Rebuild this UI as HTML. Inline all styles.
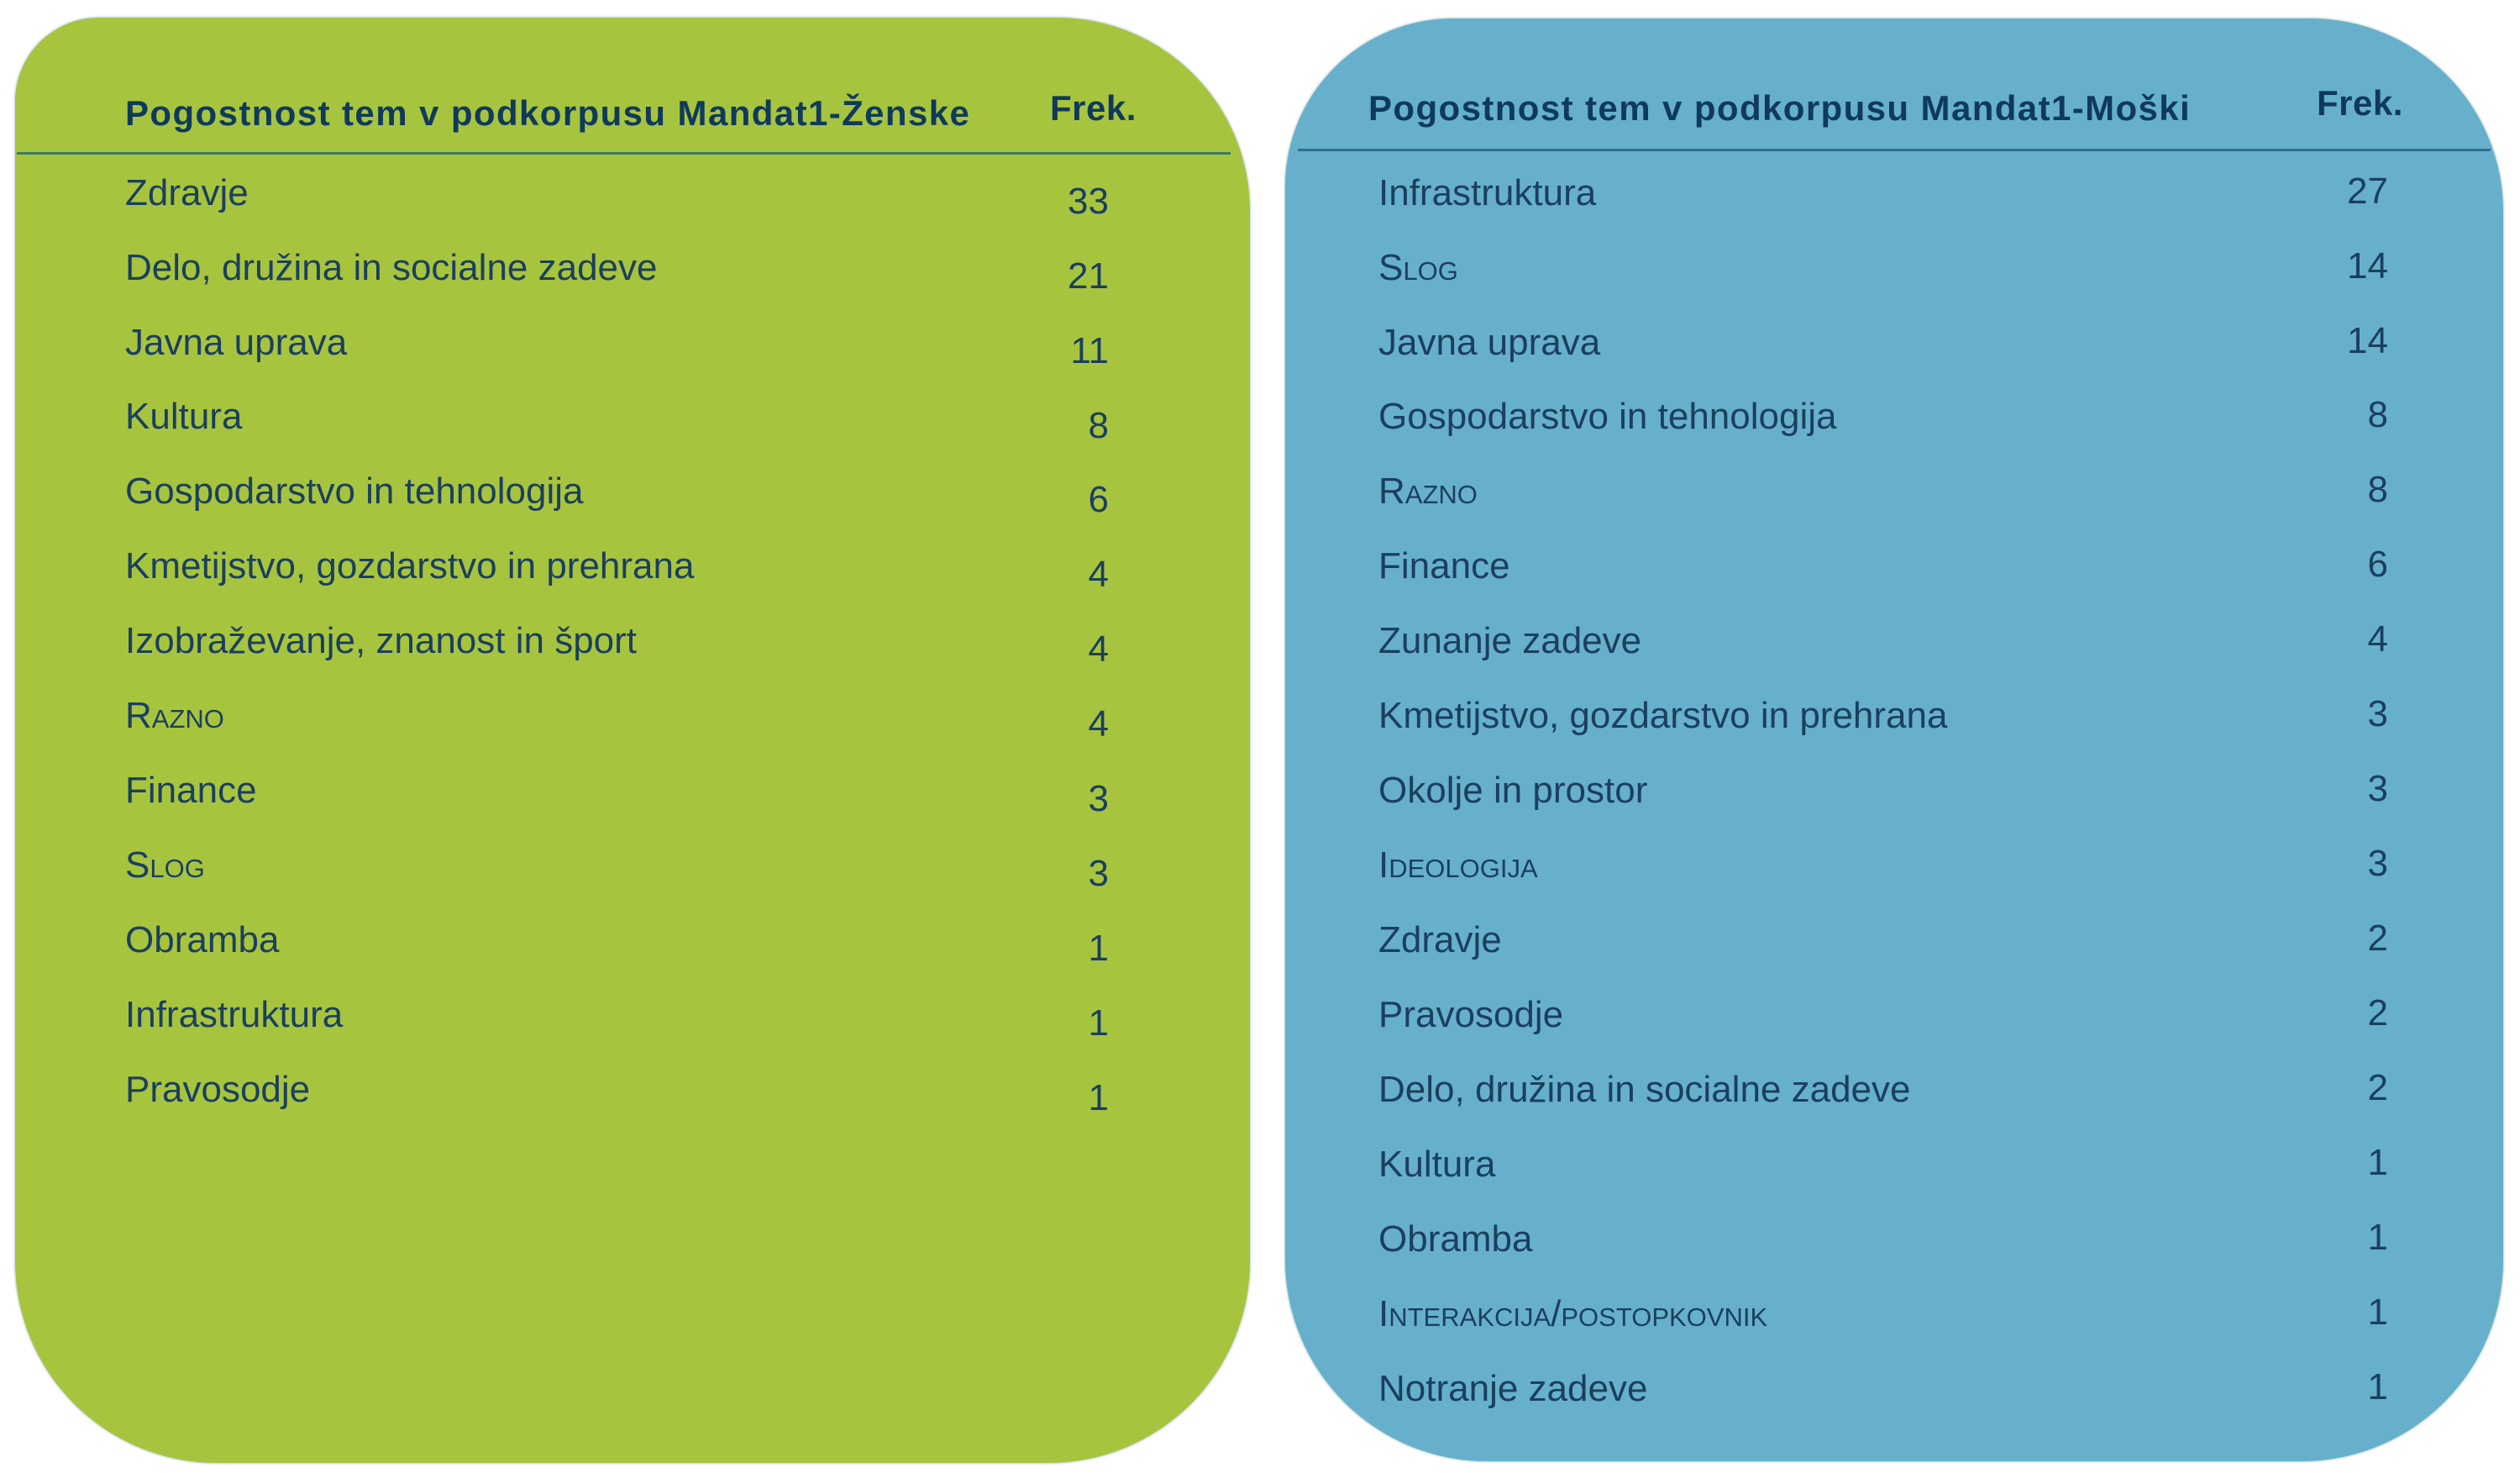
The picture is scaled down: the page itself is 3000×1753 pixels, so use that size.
<!DOCTYPE html>
<html><head><meta charset="utf-8"><style>
body{margin:0;width:3000px;height:1753px;background:#fff;position:relative;overflow:hidden;font-family:"Liberation Sans",sans-serif;}
.p{position:absolute;}
#L{left:18px;top:21px;width:1470px;height:1720px;background:#a7c43f;border-radius:100px 230px 240px 240px;box-shadow:0 0 3px #8aa;}
#R{left:1530px;top:22px;width:1450px;height:1717px;background:#66b0cb;border-radius:200px 230px 240px 240px;box-shadow:0 0 3px #8aa;}
.hl{position:absolute;height:3px;background:#3d7a5e;}
.t{position:absolute;font-size:44px;color:#1b3f5f;letter-spacing:0px;white-space:nowrap;line-height:1;}
.h{position:absolute;font-size:42px;font-weight:bold;color:#0f3a5c;letter-spacing:1.4px;white-space:nowrap;line-height:1;}
.f{letter-spacing:0.5px;}
.n{position:absolute;font-size:44px;color:#1b3f5f;text-align:right;width:120px;line-height:1;}
.sc{font-variant:small-caps;}
</style></head><body>
<div id="L" class="p"></div>
<div id="R" class="p"></div>
<div class="hl" style="left:20px;top:181px;width:1445px;background:#3d7a5e"></div>
<div class="hl" style="left:1545px;top:177px;width:1420px;background:#2f6f8a"></div>

<div class="h" style="left:149px;top:114px">Pogostnost tem v podkorpusu Mandat1-Ženske</div>
<div class="h f" style="left:1250px;top:108px">Frek.</div>
<div class="h" style="left:1629px;top:108px">Pogostnost tem v podkorpusu Mandat1-Moški</div>
<div class="h f" style="left:2758px;top:102px">Frek.</div>

<div class="t" style="left:149px;top:208px">Zdravje</div><div class="n" style="left:1200px;top:218px">33</div>
<div class="t" style="left:149px;top:297px">Delo, družina in socialne zadeve</div><div class="n" style="left:1200px;top:307px">21</div>
<div class="t" style="left:149px;top:386px">Javna uprava</div><div class="n" style="left:1200px;top:396px">11</div>
<div class="t" style="left:149px;top:474px">Kultura</div><div class="n" style="left:1200px;top:485px">8</div>
<div class="t" style="left:149px;top:563px">Gospodarstvo in tehnologija</div><div class="n" style="left:1200px;top:573px">6</div>
<div class="t" style="left:149px;top:652px">Kmetijstvo, gozdarstvo in prehrana</div><div class="n" style="left:1200px;top:662px">4</div>
<div class="t" style="left:149px;top:741px">Izobraževanje, znanost in šport</div><div class="n" style="left:1200px;top:751px">4</div>
<div class="t sc" style="left:149px;top:830px">Razno</div><div class="n" style="left:1200px;top:840px">4</div>
<div class="t" style="left:149px;top:919px">Finance</div><div class="n" style="left:1200px;top:929px">3</div>
<div class="t sc" style="left:149px;top:1008px">Slog</div><div class="n" style="left:1200px;top:1018px">3</div>
<div class="t" style="left:149px;top:1097px">Obramba</div><div class="n" style="left:1200px;top:1107px">1</div>
<div class="t" style="left:149px;top:1186px">Infrastruktura</div><div class="n" style="left:1200px;top:1196px">1</div>
<div class="t" style="left:149px;top:1275px">Pravosodje</div><div class="n" style="left:1200px;top:1285px">1</div>

<div class="t" style="left:1641px;top:208px">Infrastruktura</div><div class="n" style="left:2723px;top:206px">27</div>
<div class="t sc" style="left:1641px;top:297px">Slog</div><div class="n" style="left:2723px;top:295px">14</div>
<div class="t" style="left:1641px;top:386px">Javna uprava</div><div class="n" style="left:2723px;top:384px">14</div>
<div class="t" style="left:1641px;top:474px">Gospodarstvo in tehnologija</div><div class="n" style="left:2723px;top:472px">8</div>
<div class="t sc" style="left:1641px;top:563px">Razno</div><div class="n" style="left:2723px;top:561px">8</div>
<div class="t" style="left:1641px;top:652px">Finance</div><div class="n" style="left:2723px;top:650px">6</div>
<div class="t" style="left:1641px;top:741px">Zunanje zadeve</div><div class="n" style="left:2723px;top:739px">4</div>
<div class="t" style="left:1641px;top:830px">Kmetijstvo, gozdarstvo in prehrana</div><div class="n" style="left:2723px;top:828px">3</div>
<div class="t" style="left:1641px;top:919px">Okolje in prostor</div><div class="n" style="left:2723px;top:917px">3</div>
<div class="t sc" style="left:1641px;top:1008px">Ideologija</div><div class="n" style="left:2723px;top:1006px">3</div>
<div class="t" style="left:1641px;top:1097px">Zdravje</div><div class="n" style="left:2723px;top:1095px">2</div>
<div class="t" style="left:1641px;top:1186px">Pravosodje</div><div class="n" style="left:2723px;top:1184px">2</div>
<div class="t" style="left:1641px;top:1275px">Delo, družina in socialne zadeve</div><div class="n" style="left:2723px;top:1273px">2</div>
<div class="t" style="left:1641px;top:1364px">Kultura</div><div class="n" style="left:2723px;top:1362px">1</div>
<div class="t" style="left:1641px;top:1453px">Obramba</div><div class="n" style="left:2723px;top:1451px">1</div>
<div class="t sc" style="left:1641px;top:1542px">Interakcija/postopkovnik</div><div class="n" style="left:2723px;top:1540px">1</div>
<div class="t" style="left:1641px;top:1631px">Notranje zadeve</div><div class="n" style="left:2723px;top:1629px">1</div>
</body></html>
